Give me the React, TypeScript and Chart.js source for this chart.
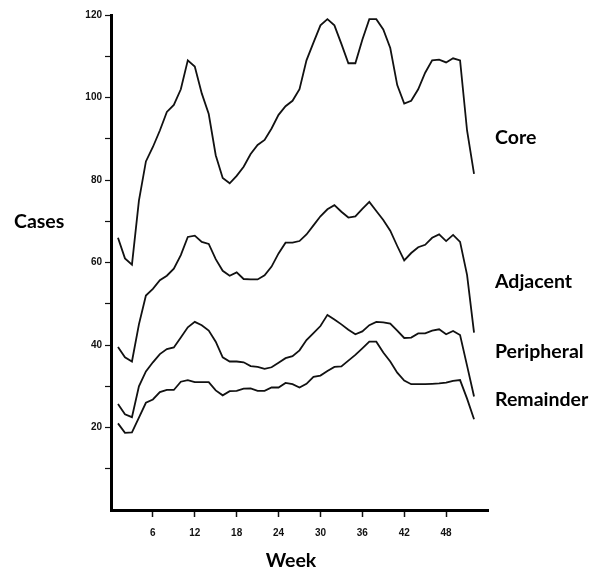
import React, { useEffect, useRef } from "react";
import { Chart, registerables } from "chart.js";

Chart.register(...registerables);

const weeks: number[] = Array.from({ length: 52 }, (_, i) => i + 1);

const core: number[] = [
  66, 61, 59.5, 75, 84.5, 88, 92, 96.5, 98.2, 102, 109, 107.5, 101, 96, 86, 80.5, 79.2, 81, 83.2, 86.3,
  88.5, 89.7, 92.5, 95.8, 97.9, 99.2, 102, 109, 113.3, 117.5, 119, 117.5, 113, 108.3, 108.3, 114, 119, 119, 116.5, 112,
  103, 98.5, 99.2, 102, 106, 109, 109.2, 108.5, 109.5, 109, 92, 81.5,
];

const adjacent: number[] = [
  39.5, 37, 36, 45, 52, 53.6, 55.7, 56.8, 58.5, 61.8, 66.2, 66.5, 65, 64.5, 60.8, 58, 56.8, 57.6, 56, 55.9,
  55.9, 56.9, 59, 62.2, 64.8, 64.8, 65.2, 66.8, 69, 71.2, 72.9, 73.9, 72.3, 70.9, 71.2, 73, 74.7, 72.5, 70.3, 67.7,
  64, 60.5, 62.3, 63.7, 64.3, 66, 66.8, 65.2, 66.7, 65, 57, 43,
];

const peripheral: number[] = [
  25.7, 23.2, 22.5, 30, 33.6, 35.8, 37.8, 39, 39.4, 41.8, 44.3, 45.6, 44.8, 43.5, 40.8, 37, 36, 36, 35.8, 34.9,
  34.7, 34.2, 34.6, 35.7, 36.8, 37.3, 38.7, 41.2, 42.9, 44.6, 47.3, 46.2, 45, 43.7, 42.6, 43.3, 44.8, 45.6, 45.5, 45.2,
  43.5, 41.7, 41.8, 42.8, 42.8, 43.5, 43.8, 42.6, 43.4, 42.4, 35, 27.5,
];

const remainder: number[] = [
  21, 18.7, 18.8, 22.4, 26, 26.8, 28.6, 29.1, 29.1, 31.1, 31.5, 31, 31, 31, 29, 27.8, 28.8, 28.9, 29.4, 29.5,
  28.9, 28.9, 29.7, 29.7, 30.8, 30.5, 29.7, 30.6, 32.3, 32.6, 33.7, 34.7, 34.8, 36.2, 37.6, 39.2, 40.8, 40.8, 38.2, 36,
  33.3, 31.4, 30.5, 30.5, 30.5, 30.6, 30.7, 30.9, 31.3, 31.5, 27, 22,
];

const seriesNames: string[] = ["Core", "Adjacent", "Peripheral", "Remainder"];
const xTicks: number[] = [6, 12, 18, 24, 30, 36, 42, 48];
const yTicks: number[] = [10, 20, 30, 40, 50, 60, 70, 80, 90, 100, 110, 120];
const xTitle = "Week";
const yTitle = "Cases";

const labelFont = "bold 19.5px Lato, 'Open Sans', sans-serif";

const textPlugin = {
  id: "textLabels",
  afterDraw(chart: any) {
    const ctx = chart.ctx;
    ctx.save();
    ctx.fillStyle = "#000";
    ctx.font = labelFont;
    ctx.textBaseline = "middle";
    ctx.textAlign = "left";
    const seriesY = [138, 282, 352, 400];
    seriesNames.forEach((n, i) => ctx.fillText(n, 495, seriesY[i]));
    ctx.fillText(yTitle, 14, 222);
    ctx.textAlign = "center";
    ctx.fillText(xTitle, 291, 561);
    ctx.restore();
  },
};

export default function App() {
  const ref = useRef<HTMLCanvasElement | null>(null);
  useEffect(() => {
    if (!ref.current) return;
    const mk = (data: number[], label: string) => ({
      label,
      data: weeks.map((w, i) => ({ x: w, y: data[i] })),
      borderColor: "#111",
      borderWidth: 1.8,
      pointRadius: 0,
      tension: 0,
      fill: false,
    });
    const tickFont = { family: "'Liberation Sans', Arial, sans-serif", size: 10, weight: "bold" as const };
    const chart = new Chart(ref.current, {
      type: "line",
      data: {
        datasets: [
          mk(core, seriesNames[0]),
          mk(adjacent, seriesNames[1]),
          mk(peripheral, seriesNames[2]),
          mk(remainder, seriesNames[3]),
        ],
      },
      options: {
        animation: false,
        responsive: false,
        devicePixelRatio: 1,
        layout: { padding: { left: 0, right: 109, top: 15, bottom: 0 } },
        plugins: { legend: { display: false }, tooltip: { enabled: false } },
        scales: {
          x: {
            type: "linear",
            min: 0,
            max: 54,
            afterBuildTicks: (s: any) => {
              s.ticks = xTicks.map((v) => ({ value: v }));
            },
            afterFit: (s: any) => {
              s.height = 66;
            },
            ticks: { color: "#111", font: tickFont, padding: 10, maxRotation: 0, autoSkip: false },
            grid: { drawOnChartArea: false, drawTicks: true, tickLength: 7, tickColor: "#111", tickWidth: 1.5 },
            border: { display: true, color: "#000", width: 3 },
          },
          y: {
            type: "linear",
            min: 0,
            max: 120,
            afterBuildTicks: (s: any) => {
              s.ticks = yTicks.map((v) => ({ value: v }));
            },
            afterFit: (s: any) => {
              s.width = 111;
            },
            ticks: {
              color: "#111",
              font: tickFont,
              padding: 3,
              autoSkip: false,
              callback: (v: any) => (Number(v) % 20 === 0 ? String(v) : ""),
            },
            grid: { drawOnChartArea: false, drawTicks: true, tickLength: 6, tickColor: "#111", tickWidth: 1.2 },
            border: { display: true, color: "#000", width: 3 },
          },
        },
      },
      plugins: [textPlugin],
    });
    return () => chart.destroy();
  }, []);
  return (
    <div style={{ position: "fixed", left: 0, top: 0, width: 597, height: 576, background: "#fff" }}>
      <canvas ref={ref} width={597} height={576} style={{ width: 597, height: 576 }} />
    </div>
  );
}
